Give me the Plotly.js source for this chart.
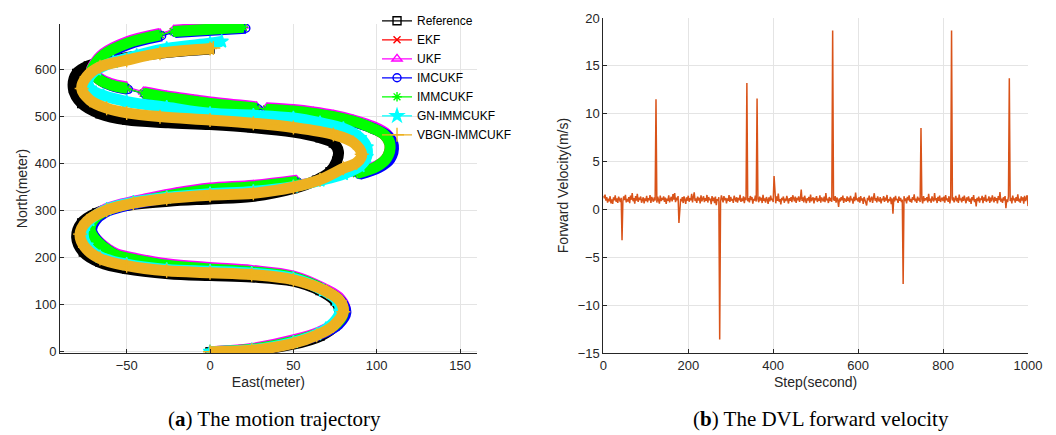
<!DOCTYPE html>
<html><head><meta charset="utf-8">
<script src="https://cdn.plot.ly/plotly-3.0.1.min.js"></script>
<style>html,body{margin:0;padding:0;background:#fff}#chart{width:1056px;height:435px}</style>
</head><body><div id="chart"></div>
<script>
// ---------- (a) trajectory data, East / North in metres ----------
const refEast  = [0,25,50,66,75,78,75,66,50,25, 0,-25,-50,-66,-76,-80,-77,-68,-52,-25, 0,25,50,64,72,76,77,74,66,50, 25,0,-25,-50,-66,-77,-82,-80,-73,-60, -45,-25,0];
const refNorth = [0,3,16,33,55,82,108,130,150,159, 162,166,176,190,212,243,274,295,310,320, 325,330,347,365,383,405,426,444,455,467, 477,483,487,493,506,528,560,592,608,619, 628,637,644];

const ekfEast  = [0,25,50,66,76,80,77,68,50,25, 0,-26,-44,-56,-61,-67,-71,-72,-70,-64, -52,-40,-20,0,26,52,null,88,100,106, 108,105,97,86,74,62,50,34,null,28, 0,-10,-26,-40,null,-50,-60,-66,-71,-70, -64,-50,-30,null,-22,0,20];
const ekfNorth = [0,5,22,40,60,85,110,132,158,170, 176,184,195,205,215,232,250,262,280,298, 312,321,335,345,351,362,null,379,394,412, 440,460,476,490,500,507,512,516,null,518, 528,533,541,550,null,560,568,578,596,606, 631,656,674,null,681,686,690];

const ukfEast  = [0,25,50,66,76,81,78,68,50,25, 0,-26,-44,-56,-61,-67,-71,-72,-70,-64, -52,-40,-20,0,26,52,null,88,101,107, 109,106,98,86,74,62,50,34,null,28, 0,-10,-26,-40,null,-50,-60,-66,-71,-70, -64,-50,-30,null,-22,0,20];
const ukfNorth = [0,7,25,43,63,88,113,135,161,173, 179,187,198,208,218,235,253,265,283,301, 315,324,338,348,354,365,null,382,397,415, 443,463,479,493,503,510,515,519,null,521, 531,536,544,553,null,563,571,581,599,609, 634,659,677,null,684,689,693];

const imcEast  = [0,26,51,67,77,81.5,78.5,69,51,26, 1,-25,-43,-55,-60,-66,-70,-71,-69,-63, -51,-39,-19,1,27,53,null,89.5,101.5,108, 110,107,98.5,87,75,63,51,35,null,29, 1,-9,-25,-39,null,-49,-59,-65,-70,-69, -63,-49,-29,null,-21,1,21.5];
const imcNorth = [0,3,20,38,58,83,108,130,156,168, 174,182,193,203,213,230,248,260,278,296, 310,319,333,343,349,360,null,377,392,410, 438,458,474,488,498,505,510,514,null,516, 526,531,539,548,null,558,566,576,594,604, 629,654,672,null,679,684,688];

const immEast  = [0,25,50,66,76,80,77,68,50,25, 0,-26,-44,-56,-61,-67,-71,-72,-70,-64, -52,-40,-20,0,26,52,null,88,100,106, 108,105,97,86,74,62,50,34,null,28, 0,-10,-26,-40,null,-50,-60,-66,-71,-70, -64,-50,-30,null,-22,0,20];
const immNorth = [0,5,22,40,60,85,110,132,158,170, 176,184,195,205,215,232,250,262,280,298, 312,321,335,345,351,362,null,379,394,412, 440,460,476,490,500,507,512,516,null,518, 528,533,541,550,null,560,568,578,596,606, 631,656,674,null,681,686,690];

const gnEast   = [0,25,50,64,73,78,76,68,50,25, 0,-26,-50,-66,-74,-76,-72,-62,-46,-26, 0,26,50,66,80,90,94,94,90,80, 66,50,26,0,-26,-50,-64,-72,-73,-68, -58,-44,-26,0,7];
const gnNorth  = [0,4,20,37,58,85,110,130,156,167, 171,175,186,202,226,255,280,303,318,328, 336,341,351,364,378,395,415,435,455,475, 487,497,503,507,520,532,545,560,580,600, 616,630,645,656,660];

const vbEast   = [0,25,50,64,74,80,78,70,50,25, 0,-26,-50,-66,-75,-78,-74,-62,-46,-26, 0,26,50,66,80,88,91,86,74,50, 26,0,-30,-50,-62,-72,-77,-74,-66,-50, -30,0,2];
const vbNorth  = [0,3,18,35,55,85,108,128,153,164, 168,172,183,198,222,250,277,301,316,326, 333,337,350,366,390,402,420,445,462,477, 486,493,500,508,518,535,560,585,606,620, 635,645,646];

const seriesNames = ['Reference','EKF','UKF','IMCUKF','IMMCUKF','GN-IMMCUKF','VBGN-IMMCUKF'];

// ---------- (b) DVL forward velocity (m/s), one value every 2 steps from step 0 to 1000 ----------
const velocity = [
 1.42,1.18,1.55,0.92,1.30,0.71,1.12,0.86,1.38,0.64,
 1.05,0.58,1.26,0.95,1.47,0.80,1.15,0.69,1.33,1.02,
 0.77,1.21,-3.23,0.88,1.36,0.97,1.52,0.74,1.10,0.83,
 1.29,0.66,1.44,1.01,1.70,0.85,1.18,0.60,1.39,0.92,
 1.64,0.79,1.23,0.98,1.35,0.70,1.08,1.27,0.62,1.16,
 0.89,1.41,0.75,1.19,0.95,1.50,0.68,1.31,1.04,0.81,
 1.26,0.93,11.5,0.72,1.34,1.06,0.61,1.45,0.87,1.20,
 0.99,1.37,0.78,1.24,0.57,1.13,0.90,1.48,0.73,1.09,
 1.32,0.84,1.59,1.03,1.71,0.76,1.22,0.95,1.40,-1.42,
 0.47,1.11,0.86,1.29,0.67,1.36,1.00,0.58,1.25,0.91,
 1.43,0.80,1.17,0.96,1.62,0.73,1.28,1.79,0.88,1.14,
 0.69,1.33,0.94,1.21,0.63,1.46,0.85,1.07,1.37,0.76,
 1.19,0.90,1.51,0.72,1.30,0.98,1.12,0.55,1.40,0.87,
 1.24,0.66,1.35,0.44,1.08,0.93,1.28,-13.6,0.81,1.46,
 1.05,0.74,1.38,0.96,1.22,0.62,1.16,0.89,1.49,0.78,
 1.31,0.92,1.10,0.68,1.42,1.01,0.83,1.27,0.71,1.20,
 0.95,1.53,0.79,1.14,0.88,1.36,0.65,1.25,0.97,13.2,
 0.86,1.18,0.73,1.40,0.99,1.29,0.60,1.11,0.92,1.45,
 0.82,11.6,1.07,0.75,1.34,0.94,1.21,0.67,1.52,0.88,
 1.16,0.71,1.30,1.02,0.59,1.27,0.85,1.44,0.97,1.13,
 0.78,3.5,1.19,0.64,1.38,0.90,1.66,0.81,1.08,0.53,
 1.22,0.95,1.35,0.70,1.12,0.87,1.41,0.98,0.62,1.17,
 0.91,1.29,0.76,1.48,1.03,0.84,1.33,0.68,1.20,0.96,
 1.37,0.80,1.14,2.08,0.89,1.26,0.73,1.43,1.00,0.66,
 1.18,0.93,1.31,0.71,1.54,0.86,1.09,1.27,0.64,1.21,
 0.97,1.39,0.78,1.16,0.92,1.48,0.70,1.25,1.03,0.84,
 1.34,0.75,1.72,0.95,1.12,0.67,1.30,0.88,1.19,0.79,
 18.7,1.06,0.91,1.38,0.72,1.24,0.98,0.26,1.15,0.83,
 1.29,0.94,1.45,0.69,1.17,1.01,0.80,1.36,0.90,1.22,
 0.74,1.41,0.96,1.13,0.61,1.32,0.87,1.75,0.99,1.08,
 0.82,1.27,0.70,1.39,0.93,1.16,0.58,1.30,1.04,0.85,
 0.42,1.21,0.95,1.44,0.77,1.10,1.33,0.68,1.25,1.69,
 0.91,1.18,0.73,1.36,1.00,0.84,1.29,0.62,1.14,0.97,
 1.40,0.79,1.23,0.92,1.51,0.71,1.08,0.88,1.32,0.55,
 1.15,-0.44,1.26,0.83,1.42,0.97,1.11,0.69,1.35,0.90,
 1.20,0.76,1.04,-7.8,1.38,0.87,1.16,0.64,1.31,0.95,
 1.47,0.81,1.09,0.72,1.28,0.99,1.58,0.85,1.13,0.68,
 1.34,0.92,1.21,0.77,8.5,1.05,0.63,1.40,0.89,1.17,
 0.96,1.29,0.74,1.63,0.88,1.12,0.70,1.36,1.02,0.83,
 1.72,0.95,1.18,0.67,1.31,0.90,1.45,0.78,1.07,1.24,
 0.86,1.33,0.71,1.50,0.98,1.14,0.80,1.38,0.62,1.19,
 18.7,0.93,1.27,0.75,1.09,1.41,0.84,1.22,0.69,1.56,
 0.97,1.16,0.73,1.30,0.89,1.44,1.01,0.65,1.25,0.92,
 1.37,0.80,1.12,0.58,1.28,0.94,1.49,0.76,1.08,0.31,
 1.20,0.87,1.34,0.72,1.15,0.99,1.42,0.66,1.26,0.91,
 1.53,0.78,1.10,0.95,1.36,0.69,1.23,0.85,1.47,1.02,
 0.74,1.31,0.90,1.18,0.63,1.40,0.97,1.82,0.81,1.14,
 0.68,1.27,0.93,1.39,0.12,1.05,0.76,1.35,13.7,0.88,
 1.21,0.64,1.44,0.98,1.16,0.72,1.30,0.89,1.58,0.83,
 1.12,0.70,1.36,0.94,1.25,0.61,1.41,0.87,1.19,1.48,
 0.35
];

// ---------- styles ----------
const styles = [
  {color:'#000000', symbol:'square-open',      size:8},
  {color:'#FF0000', symbol:'x-thin-open',      size:7},
  {color:'#FF00FF', symbol:'triangle-up-open', size:9},
  {color:'#0000FF', symbol:'circle-open',      size:8},
  {color:'#00FF00', symbol:'asterisk-open',    size:8},
  {color:'#00FFFF', symbol:'star',             size:10},
  {color:'#EDB120', symbol:'cross-thin-open',  size:10}
];
const eastData  = [refEast, ekfEast, ukfEast, imcEast, immEast, gnEast, vbEast];
const northData = [refNorth, ekfNorth, ukfNorth, imcNorth, immNorth, gnNorth, vbNorth];

const traces = [];
seriesNames.forEach((name, i) => {
  const st = styles[i];
  traces.push({
    x: eastData[i], y: northData[i], xaxis:'x', yaxis:'y',
    mode:'lines', connectgaps:false, showlegend:false, legendgroup:name, hoverinfo:'skip',
    line:{color:st.color, width:11, shape:'spline', smoothing:1}
  });
  traces.push({
    x: eastData[i].filter(v => v !== null), y: northData[i].filter(v => v !== null),
    xaxis:'x', yaxis:'y', name:name, legendgroup:name,
    mode:'lines+markers',
    line:{color:st.color, width:1.3, shape:'spline', smoothing:1},
    marker:{symbol:st.symbol, size:st.size, color:st.color, line:{color:st.color, width:1.4}}
  });
});
traces.push({
  y: velocity, x0:0, dx:2, xaxis:'x2', yaxis:'y2', mode:'lines', showlegend:false,
  line:{color:'#D95319', width:1.5}
});

const sans = 'Liberation Sans, Arial, Helvetica, sans-serif';
const tickFont = {family:sans, size:13, color:'#262626'};
const baseAxis = {
  showline:true, linecolor:'#262626', linewidth:1, mirror:false,
  ticks:'inside', ticklen:4, tickcolor:'#262626', tickwidth:1,
  showgrid:true, gridcolor:'#e4e4e4', gridwidth:1, zeroline:false,
  tickfont:tickFont, fixedrange:true, automargin:false
};
const titleFont = {family:sans, size:14, color:'#262626'};
const captionFont = {family:'Liberation Serif, Times New Roman, serif', size:21, color:'#000'};

const layout = {
  width:1056, height:435,
  margin:{l:60, r:28, t:18, b:82, autoexpand:false},
  paper_bgcolor:'#ffffff', plot_bgcolor:'#ffffff',
  font:{family:sans, size:13, color:'#262626'},
  showlegend:true,
  legend:{
    x:0.3275, xanchor:'left', y:1.035, yanchor:'top',
    bgcolor:'rgba(255,255,255,0)', borderwidth:0, tracegroupgap:0,
    font:{family:sans, size:12, color:'#000'}, itemwidth:30, traceorder:'normal'
  },
  xaxis:Object.assign({}, baseAxis, {domain:[0,0.4305], range:[-90,160], tick0:0, dtick:50, anchor:'y',
    title:{text:'East(meter)', font:titleFont, standoff:5}}),
  yaxis:Object.assign({}, baseAxis, {domain:[0,0.982], range:[-2.8,697], tick0:0, dtick:100, anchor:'x',
    title:{text:'North(meter)', font:titleFont, standoff:3}}),
  xaxis2:Object.assign({}, baseAxis, {domain:[0.5613,1], range:[0,1000], tick0:0, dtick:200, anchor:'y2',
    title:{text:'Step(second)', font:titleFont, standoff:5}}),
  yaxis2:Object.assign({}, baseAxis, {domain:[0,1], range:[-15,20], tick0:0, dtick:5, anchor:'x2',
    title:{text:'Forward Velocity(m/s)', font:titleFont, standoff:5}}),
  annotations:[
    {xref:'paper', yref:'paper', x:0.222, y:-0.197, xanchor:'center', yanchor:'middle', showarrow:false,
     text:'(<b>a</b>) The motion trajectory', font:captionFont},
    {xref:'paper', yref:'paper', x:0.786, y:-0.197, xanchor:'center', yanchor:'middle', showarrow:false,
     text:'(<b>b</b>) The DVL forward velocity', font:captionFont}
  ]
};

Plotly.newPlot('chart', traces, layout, {displayModeBar:false, staticPlot:true});
</script>
</body></html>
